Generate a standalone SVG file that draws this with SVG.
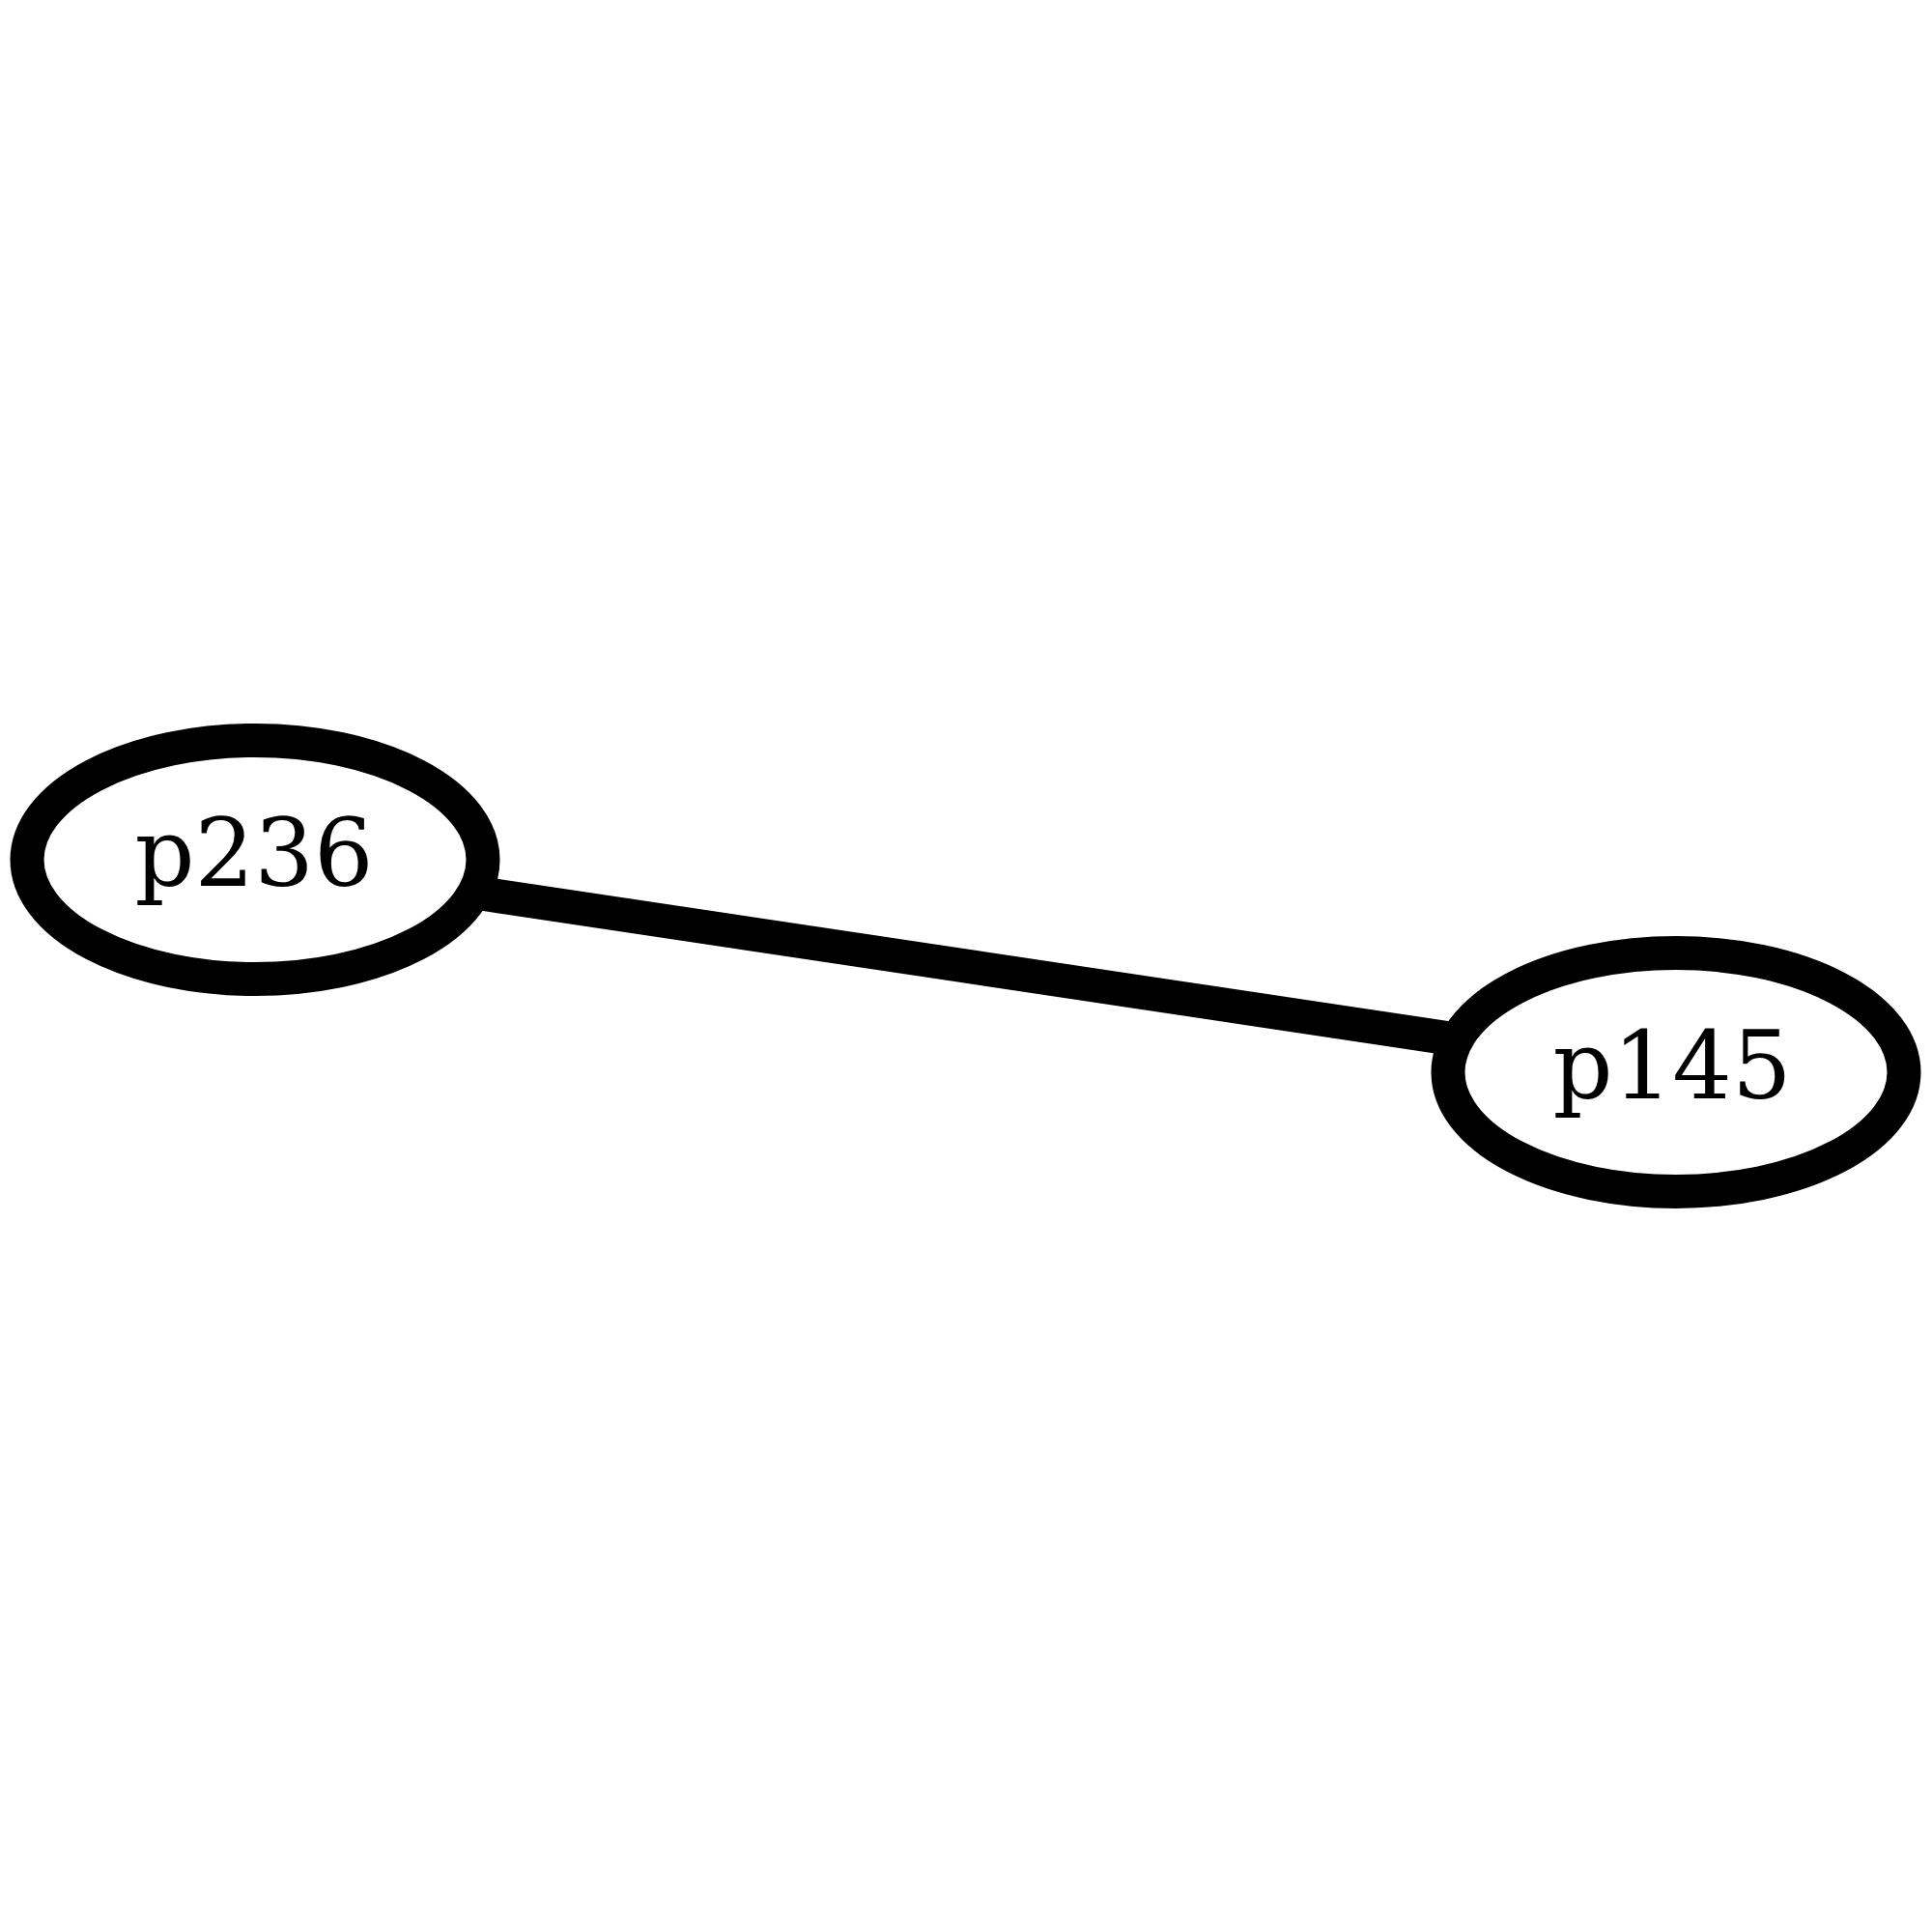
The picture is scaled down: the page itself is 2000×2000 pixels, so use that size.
<svg xmlns="http://www.w3.org/2000/svg" width="2000" height="2000" viewBox="0 0 2000 2000">
<style>
.node ellipse{fill:#ffffff;stroke:#000000;stroke-width:35}
.node text{font-family:"DejaVu Serif","Liberation Serif",serif;font-size:97px;fill:#000000;text-anchor:middle}
.edge line{stroke:#000000;stroke-width:35;stroke-linecap:butt}
</style>
<rect x="0" y="0" width="2000" height="2000" fill="#ffffff"/>
<g id="edges" class="edge">
<line x1="490.9" y1="923.9" x2="1508.1" y2="1076.1"/>
</g>
<g id="node-p236" class="node">
<ellipse cx="264" cy="890" rx="236" ry="123.5"/>
<text x="263" y="917">p236</text>
</g>
<g id="node-p145" class="node">
<ellipse cx="1735" cy="1110" rx="236" ry="123.5"/>
<text x="1731" y="1137">p145</text>
</g>
</svg>
